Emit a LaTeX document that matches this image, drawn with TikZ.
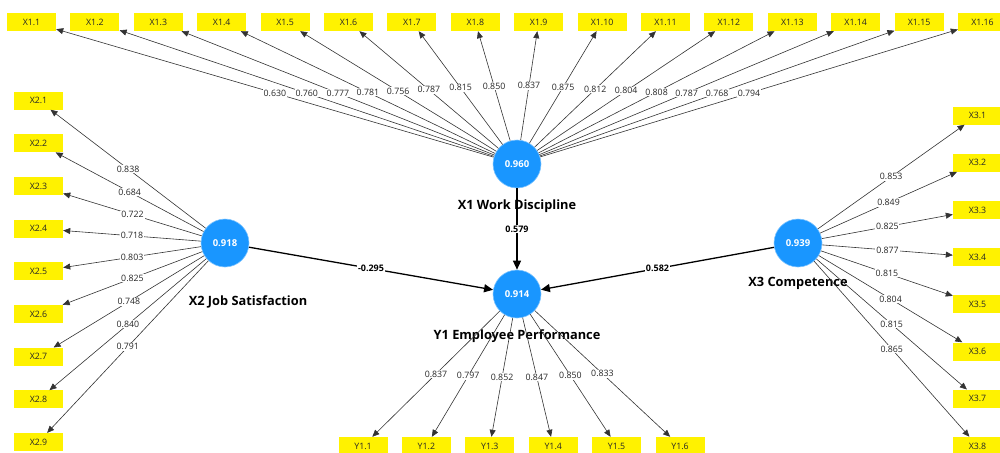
\documentclass[tikz,border=0pt]{standalone}
\usepackage{fontspec}
\setmainfont{Open Sans}
\usetikzlibrary{arrows.meta}

\begin{document}
\begin{tikzpicture}[x=1pt,y=-1pt]
\definecolor{lvblue}{RGB}{25,150,255}
\tikzstyle{lv} = [circle,fill=lvblue,draw=lvblue!55!white,line width=0.6pt,minimum size=48pt,inner sep=0pt,text=white,font=\fontsize{9.5}{10}\selectfont\bfseries]
\tikzstyle{mv} = [rectangle,fill=yellow,minimum width=49pt,minimum height=18pt,inner sep=0pt,text=black!85,font=\fontsize{8.8}{9}\selectfont]
\tikzstyle{lvname} = [font=\fontsize{12.8}{14}\selectfont\bfseries]
\tikzstyle{load} = [-{Triangle[length=7pt,width=6pt]},draw=black!80,line width=0.6pt]
\tikzstyle{inner} = [-{Triangle[length=9pt,width=8pt]},draw=black,line width=1.3pt]
\tikzstyle{wlabel} = [fill=white,inner sep=0.8pt,text=black!85,font=\fontsize{8.8}{9}\selectfont]
\tikzstyle{blabel} = [fill=white,inner sep=0.8pt,font=\fontsize{9}{9}\selectfont\bfseries]

\useasboundingbox (0,0) rectangle (1000,452);

% latent variables
\node[lv] (X1) at (517,164) {0.960};
\node[lv] (X2) at (225,243) {0.918};
\node[lv] (X3) at (798,243) {0.939};
\node[lv] (Y1) at (517,294) {0.914};
\node[lvname] at (517,206) {X1 Work Discipline};
\node[lvname] at (248,302) {X2 Job Satisfaction};
\node[lvname] at (798,283) {X3 Competence};
\node[lvname] at (517,336) {Y1 Employee Performance};

% inner model
\draw[inner] (X1) -- (Y1) node[blabel,midway] {0.579};
\draw[inner] (X2) -- (Y1) node[blabel,midway] {-0.295};
\draw[inner] (X3) -- (Y1) node[blabel,midway] {0.582};

% indicators of X1
\foreach \i/\v in {1/0.630,2/0.760,3/0.777,4/0.781,5/0.756,6/0.787,7/0.815,8/0.850,
                   9/0.837,10/0.875,11/0.812,12/0.804,13/0.808,14/0.787,15/0.768,16/0.794} {
  \node[mv] (x1-\i) at ({31.5+63.4*(\i-1)},22) {X1.\i};
  \draw[load] (X1) -- (x1-\i) node[wlabel,midway] {\v};
}

% indicators of X2
\foreach \i/\v in {1/0.838,2/0.684,3/0.722,4/0.718,5/0.803,6/0.825,7/0.748,8/0.840,9/0.791} {
  \node[mv] (x2-\i) at (38.5,{100.5+42.7*(\i-1)}) {X2.\i};
  \draw[load] (X2) -- (x2-\i) node[wlabel,midway] {\v};
}

% indicators of X3
\foreach \i/\v in {1/0.853,2/0.849,3/0.825,4/0.877,5/0.815,6/0.804,7/0.815,8/0.865} {
  \node[mv] (x3-\i) at (977.5,{115.5+47.2*(\i-1)}) {X3.\i};
  \draw[load] (X3) -- (x3-\i) node[wlabel,midway] {\v};
}

% indicators of Y1
\foreach \i/\v in {1/0.837,2/0.797,3/0.852,4/0.847,5/0.850,6/0.833} {
  \node[mv] (y1-\i) at ({363+63.4*(\i-1)},446) {Y1.\i};
  \draw[load] (Y1) -- (y1-\i) node[wlabel,midway] {\v};
}
\end{tikzpicture}
\end{document}
